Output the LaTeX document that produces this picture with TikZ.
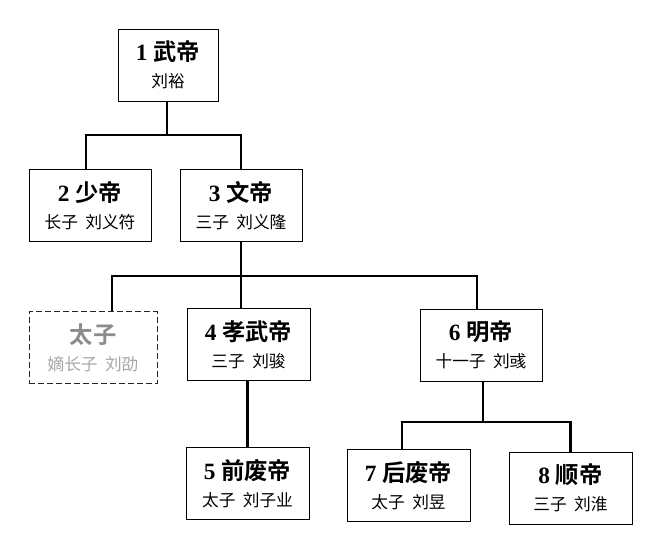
\documentclass[tikz,border=0pt]{standalone}
\usepackage{fontspec}
\setmainfont{Liberation Serif}
\newfontfamily\cjk{Noto Sans CJK SC}[BoldFont={* Bold}]
\usetikzlibrary{calc}
\tikzset{
  box/.style={draw,line width=0.75pt,inner sep=0pt,align=center,minimum height=72*0.75pt},
  ghostbox/.style={box,dash pattern=on 4.5pt off 2.25pt,draw=black!85},
  conn/.style={line width=2.1pt},
}
\newcommand{\ttlx}[2]{{\fontsize{17.5pt}{19pt}\selectfont\bfseries #1\ {\cjk\bfseries #2}}}
\newcommand{\subx}[1]{{\fontsize{12.5pt}{14pt}\selectfont\cjk #1}}
\newcommand{\boxtext}[3]{\ttlx{#1}{#2}\\[7pt]\subx{#3}}
\begin{document}
\begin{tikzpicture}[x=0.75pt,y=-0.75pt]
\useasboundingbox (0,0) rectangle (660,550);
\node[box,minimum width=100*0.75pt] (n1) at (168,65) {\boxtext{1}{武帝}{刘裕}};
\node[box,minimum width=122*0.75pt] (n2) at (90,205.5) {\boxtext{2}{少帝}{长子\hspace{0.45em}刘义符}};
\node[box,minimum width=122*0.75pt] (n3) at (241,205.5) {\boxtext{3}{文帝}{三子\hspace{0.45em}刘义隆}};
\node[ghostbox,minimum width=128*0.75pt] (tz) at (93,347.5) {{\fontsize{17.5pt}{19pt}\selectfont\cjk\bfseries\color{black!45} 太子}\\[7pt]\subx{\color{black!35}嫡长子\hspace{0.45em}刘劭}};
\node[box,minimum width=123*0.75pt] (n4) at (248.5,344.5) {\boxtext{4}{孝武帝}{三子\hspace{0.45em}刘骏}};
\node[box,minimum width=123*0.75pt] (n5) at (247.5,483.5) {\boxtext{5}{前废帝}{太子\hspace{0.45em}刘子业}};
\node[box,minimum width=122*0.75pt] (n6) at (481,345) {\boxtext{6}{明帝}{十一子\hspace{0.45em}刘彧}};
\node[box,minimum width=123*0.75pt] (n7) at (408.5,485.5) {\boxtext{7}{后废帝}{太子\hspace{0.45em}刘昱}};
\node[box,minimum width=123*0.75pt] (n8) at (570.5,488) {\boxtext{8}{顺帝}{三子\hspace{0.45em}刘淮}};
% connectors
\coordinate (b1) at (167,135);
\coordinate (b3) at (241,276);
\coordinate (b6) at (483,422);
\draw[conn] ([xshift=-0.75pt]n1.south) -- (b1);
\draw[conn] ([xshift=-3pt]n2.north) |- (b1) -| (n3.north);
\draw[conn] (n3.south) -- (b3);
\draw[conn] ([xshift=14.25pt]tz.north) |- (b3) -| ([xshift=-3pt]n6.north);
\draw[conn] (b3) -- (b3 |- n4.north);
\draw[conn] ([xshift=-1pt]n4.south) -- ([xshift=-0.25pt]n5.north);
\draw[conn] ([xshift=1.5pt]n6.south) -- (b6);
\draw[conn] ([xshift=-4.9pt]n7.north) |- (b6) -| (n8.north);
\end{tikzpicture}
\end{document}
